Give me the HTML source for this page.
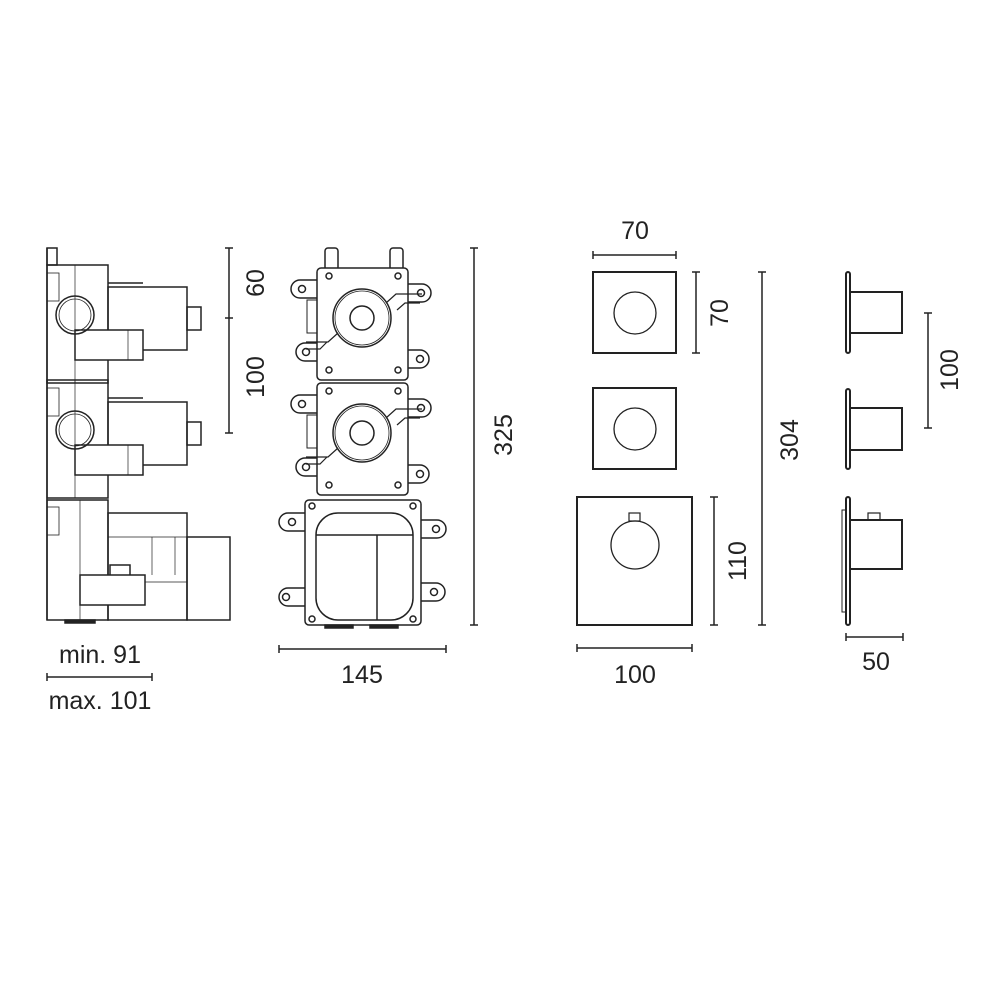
<!DOCTYPE html>
<html><head><style>body{margin:0;background:#fff}svg{display:block}text{font-family:"Liberation Sans",sans-serif;fill:#222;font-size:25px}</style></head><body>
<svg width="1000" height="1000" viewBox="0 0 1000 1000" fill="none" stroke="#222" stroke-width="1.5">
<!-- LEFT SIDE VIEW -->
<g>
<line x1="47" y1="248" x2="47" y2="620"/>
<rect x="47" y="248" width="10" height="17"/>
<g id="mod">
<rect x="47" y="265" width="61" height="118"/>
<line x1="75" y1="265" x2="75" y2="383" stroke-width="0.7"/>
<rect x="108" y="287" width="79" height="63"/>
<rect x="187" y="307" width="14" height="23"/>
<rect x="75" y="330" width="68" height="30" fill="#fff"/>
<line x1="128" y1="330" x2="128" y2="360" stroke-width="0.7"/>
<circle cx="75" cy="315" r="19"/><circle cx="75" cy="315" r="16" stroke-width="0.8"/>
<line x1="108" y1="283" x2="143" y2="283"/>
<rect x="47" y="273" width="12" height="28" stroke-width="0.8"/>
</g>
<use href="#mod" transform="translate(0,115)"/>
<rect x="47" y="500" width="61" height="120"/>
<line x1="80" y1="500" x2="80" y2="620" stroke-width="0.7"/>
<rect x="47" y="507" width="12" height="28" stroke-width="0.8"/>
<rect x="108" y="513" width="79" height="107"/>
<rect x="187" y="537" width="43" height="83"/>
<line x1="108" y1="537" x2="187" y2="537" stroke-width="0.7"/>
<line x1="108" y1="582" x2="187" y2="582" stroke-width="0.7"/>
<rect x="110" y="565" width="20" height="18"/>
<rect x="80" y="575" width="65" height="30" fill="#fff"/>
<line x1="152" y1="537" x2="152" y2="575" stroke-width="0.7"/>
<line x1="175" y1="537" x2="175" y2="575" stroke-width="0.7"/>
<rect x="65" y="620" width="30" height="3" fill="#222"/>
<line x1="229" y1="248" x2="229" y2="433"/>
<line x1="225" y1="248" x2="233" y2="248"/><line x1="225" y1="318" x2="233" y2="318"/><line x1="225" y1="433" x2="233" y2="433"/>
<line x1="47" y1="677" x2="152" y2="677"/><line x1="47" y1="673" x2="47" y2="681"/><line x1="152" y1="673" x2="152" y2="681"/>
</g>
<text x="264" y="283" transform="rotate(-90 264 283)" text-anchor="middle" stroke="none">60</text>
<text x="264" y="377" transform="rotate(-90 264 377)" text-anchor="middle" stroke="none">100</text>
<text x="100" y="663" text-anchor="middle" stroke="none">min. 91</text>
<text x="100" y="709" text-anchor="middle" stroke="none">max. 101</text>
<!-- FRONT VIEW -->
<g>
<rect x="325" y="248" width="13" height="22" rx="3"/><rect x="390" y="248" width="13" height="22" rx="3"/>
<g id="fm">
<path d="M317 280 H300 a9 9 0 0 0 0 18 H317"/><circle cx="302" cy="289" r="3.5"/>
<path d="M408 284 H422 a9 9 0 0 1 0 18 H408"/><circle cx="421" cy="293" r="3.5"/>
<path d="M317 343 H305 a9 9 0 0 0 0 18 H317"/><circle cx="306" cy="352" r="3.5"/>
<path d="M408 350 H420 a9 9 0 0 1 0 18 H408"/><circle cx="420" cy="359" r="3.5"/>
<rect x="317" y="268" width="91" height="112" rx="4" fill="#fff"/>
<circle cx="362" cy="318" r="29"/><circle cx="362" cy="318" r="27" stroke-width="0.8"/><circle cx="362" cy="318" r="12"/>
<path d="M386 303 l10 -9 H422 M397 310 l8 -7 H420" stroke-width="1.2"/>
<path d="M338 333 l-10 9 H306 M327 342 l-7 7 H306" stroke-width="1.2"/>
<circle cx="329" cy="276" r="3"/><circle cx="398" cy="276" r="3"/><circle cx="329" cy="370" r="3"/><circle cx="398" cy="370" r="3"/>
<rect x="307" y="300" width="10" height="33" stroke-width="1"/>
</g>
<use href="#fm" transform="translate(0,115)"/>
<path d="M305 513 H288 a9 9 0 0 0 0 18 H305"/><circle cx="292" cy="522" r="3.5"/>
<path d="M421 520 H437 a9 9 0 0 1 0 18 H421"/><circle cx="436" cy="529" r="3.5"/>
<path d="M305 588 H288 a9 9 0 0 0 0 18 H305"/><circle cx="286" cy="597" r="3.5"/>
<path d="M421 583 H436 a9 9 0 0 1 0 18 H421"/><circle cx="434" cy="592" r="3.5"/>
<rect x="305" y="500" width="116" height="125" rx="4" fill="#fff"/>
<rect x="316" y="513" width="97" height="107" rx="22"/>
<line x1="316" y1="535" x2="413" y2="535"/><line x1="377" y1="535" x2="377" y2="620"/>
<circle cx="312" cy="506" r="3"/><circle cx="413" cy="506" r="3"/><circle cx="312" cy="619" r="3"/><circle cx="413" cy="619" r="3"/>
<rect x="325" y="625" width="28" height="3" fill="#222"/><rect x="370" y="625" width="28" height="3" fill="#222"/>
<line x1="474" y1="248" x2="474" y2="625"/><line x1="470" y1="248" x2="478" y2="248"/><line x1="470" y1="625" x2="478" y2="625"/>
<line x1="279" y1="649" x2="446" y2="649"/><line x1="279" y1="645" x2="279" y2="653"/><line x1="446" y1="645" x2="446" y2="653"/>
</g>
<text x="512" y="435" transform="rotate(-90 512 435)" text-anchor="middle" stroke="none">325</text>
<text x="362" y="683" text-anchor="middle" stroke="none">145</text>
<!-- PLATES -->
<g stroke-width="2">
<rect x="593" y="272" width="83" height="81"/><circle cx="635" cy="313" r="21" stroke-width="1.3"/>
<rect x="593" y="388" width="83" height="81"/><circle cx="635" cy="429" r="21" stroke-width="1.3"/>
<rect x="577" y="497" width="115" height="128"/><circle cx="635" cy="545" r="24" stroke-width="1.3"/>
<rect x="629" y="513" width="11" height="8" stroke-width="1.2"/>
</g>
<line x1="593" y1="255" x2="676" y2="255"/><line x1="593" y1="251" x2="593" y2="259"/><line x1="676" y1="251" x2="676" y2="259"/>
<line x1="696" y1="272" x2="696" y2="353"/><line x1="692" y1="272" x2="700" y2="272"/><line x1="692" y1="353" x2="700" y2="353"/>
<line x1="714" y1="497" x2="714" y2="625"/><line x1="710" y1="497" x2="718" y2="497"/><line x1="710" y1="625" x2="718" y2="625"/>
<line x1="762" y1="272" x2="762" y2="625"/><line x1="758" y1="272" x2="766" y2="272"/><line x1="758" y1="625" x2="766" y2="625"/>
<line x1="577" y1="648" x2="692" y2="648"/><line x1="577" y1="644" x2="577" y2="652"/><line x1="692" y1="644" x2="692" y2="652"/>
<text x="635" y="239" text-anchor="middle" stroke="none">70</text>
<text x="728" y="313" transform="rotate(-90 728 313)" text-anchor="middle" stroke="none">70</text>
<text x="746" y="561" transform="rotate(-90 746 561)" text-anchor="middle" stroke="none">110</text>
<text x="798" y="440" transform="rotate(-90 798 440)" text-anchor="middle" stroke="none">304</text>
<text x="635" y="683" text-anchor="middle" stroke="none">100</text>
<!-- SIDE KNOBS -->
<g stroke-width="2">
<rect x="846" y="272" width="4" height="81" rx="2"/><rect x="850" y="292" width="52" height="41"/>
<rect x="846" y="389" width="4" height="80" rx="2"/><rect x="850" y="408" width="52" height="42"/>
<rect x="846" y="497" width="4" height="128" rx="2"/><rect x="842" y="510" width="4" height="102" stroke-width="1"/><rect x="850" y="520" width="52" height="49"/>
<rect x="868" y="513" width="12" height="7" stroke-width="1.2"/>
</g>
<line x1="928" y1="313" x2="928" y2="428"/><line x1="924" y1="313" x2="932" y2="313"/><line x1="924" y1="428" x2="932" y2="428"/>
<line x1="846" y1="637" x2="903" y2="637"/><line x1="846" y1="633" x2="846" y2="641"/><line x1="903" y1="633" x2="903" y2="641"/>
<text x="958" y="370" transform="rotate(-90 958 370)" text-anchor="middle" stroke="none">100</text>
<text x="876" y="670" text-anchor="middle" stroke="none">50</text>
</svg>
</body></html>
